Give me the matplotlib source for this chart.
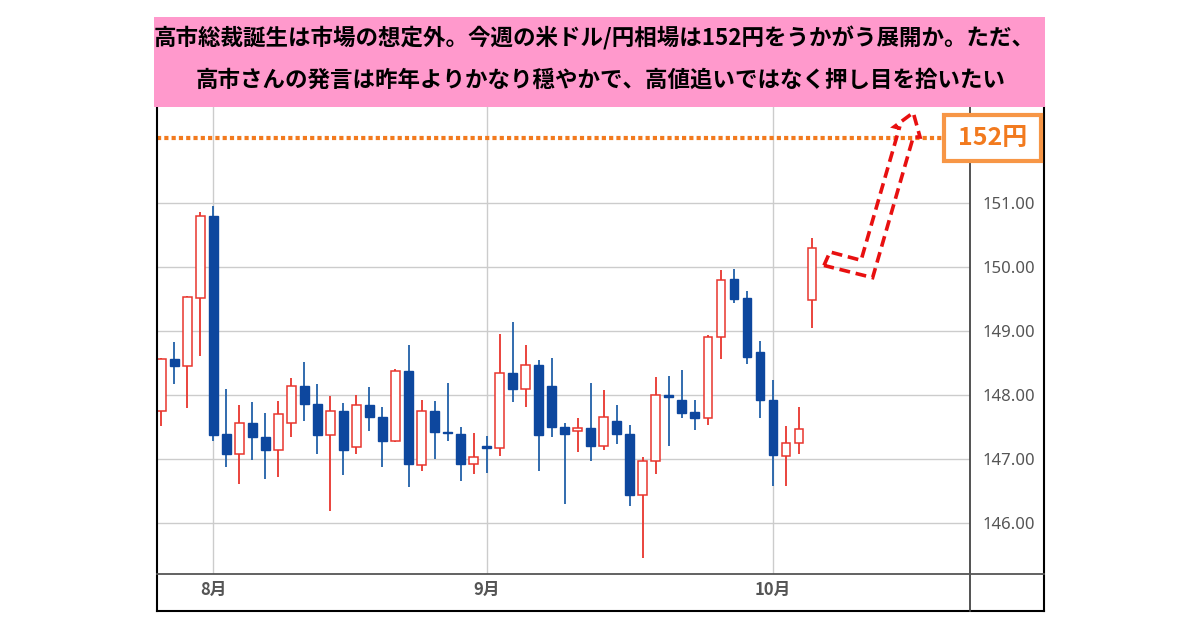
import matplotlib
matplotlib.use("Agg")
import matplotlib.pyplot as plt
from matplotlib.patches import Rectangle, Polygon
from matplotlib.lines import Line2D

# --- data: USD/JPY daily candles --------------------------------------------
dates = ["07-28", "07-29", "07-30", "07-31", "08-01", "08-04", "08-05", "08-06",
         "08-07", "08-08", "08-11", "08-12", "08-13", "08-14", "08-15", "08-18",
         "08-19", "08-20", "08-21", "08-22", "08-25", "08-26", "08-27", "08-28",
         "08-29", "09-01", "09-02", "09-03", "09-04", "09-05", "09-08", "09-09",
         "09-10", "09-11", "09-12", "09-15", "09-16", "09-17", "09-18", "09-19",
         "09-22", "09-23", "09-24", "09-25", "09-26", "09-29", "09-30", "10-01",
         "10-02", "10-03", "10-06"]
opens = [147.75, 148.56, 148.46, 149.52, 150.79, 147.39, 147.08, 147.56, 147.34, 147.14,
         147.56, 148.14, 147.86, 147.38, 147.76, 147.19, 147.84, 147.66, 147.29, 148.38,
         146.91, 147.75, 147.42, 147.40, 146.92, 147.21, 147.17, 148.34, 148.09, 148.47,
         148.14, 147.51, 147.44, 147.49, 147.21, 147.60, 147.40, 146.45, 146.97, 148.00,
         147.93, 147.73, 147.64, 148.90, 149.81, 149.51, 148.67, 147.92, 147.05, 147.25,
         149.48]
highs = [148.58, 148.82, 149.55, 150.86, 150.95, 148.09, 147.85, 147.89, 147.72, 147.91,
         148.26, 148.52, 148.17, 147.98, 147.87, 148.00, 148.12, 147.82, 148.40, 148.78,
         147.93, 147.91, 148.19, 147.50, 147.41, 147.37, 148.95, 149.14, 148.78, 148.54,
         148.58, 147.56, 147.65, 148.19, 148.08, 147.84, 147.53, 147.04, 148.28, 148.30,
         148.39, 147.93, 148.94, 149.95, 149.97, 149.62, 148.84, 148.24, 147.52, 147.82,
         150.44]
lows = [147.52, 148.17, 147.80, 148.61, 147.29, 146.88, 146.62, 146.99, 146.70, 146.72,
        147.35, 147.59, 147.09, 146.20, 146.75, 147.09, 147.44, 146.88, 147.27, 146.57,
        146.81, 147.00, 147.29, 146.66, 146.77, 146.78, 147.05, 147.90, 147.81, 146.81,
        147.35, 146.31, 147.11, 146.98, 147.14, 147.24, 146.27, 145.47, 146.77, 147.21,
        147.65, 147.46, 147.53, 148.57, 149.43, 148.48, 147.65, 146.59, 146.59, 147.09,
        149.04]
closes = [148.56, 148.46, 149.53, 150.79, 147.38, 147.08, 147.56, 147.34, 147.14, 147.71,
          148.14, 147.86, 147.38, 147.76, 147.14, 147.84, 147.66, 147.29, 148.38, 146.92,
          147.75, 147.42, 147.41, 146.92, 147.04, 147.17, 148.34, 148.09, 148.47, 147.38,
          147.51, 147.40, 147.48, 147.21, 147.66, 147.39, 146.45, 146.98, 148.00, 147.97,
          147.72, 147.64, 148.90, 149.80, 149.50, 148.59, 147.92, 147.07, 147.25, 147.47,
          150.29]

price_ticks = [146, 147, 148, 149, 150, 151]
target_price = 152.0
target_label = "152円"
title_lines = ["高市総裁誕生は市場の想定外。今週の米ドル/円相場は152円をうかがう展開か。ただ、",
               "高市さんの発言は昨年よりかなり穏やかで、高値追いではなく押し目を拾いたい"]
# hollow dashed arrow pointing up to 152 (candle index, price)
arrow_path = [(50.92, 150.02), (51.38, 150.23), (53.77, 150.10), (56.71, 152.16),
              (56.32, 152.18), (57.78, 152.40), (58.30, 152.02), (57.78, 152.02),
              (54.66, 149.83)]

UP = "#E8352D"
DOWN = "#0D479E"
DOWN_WICK = "#2160A8"
ORANGE = "#F27A1E"
BOX_ORANGE = "#F79646"
PINK = "#FF99CC"
CJK = ["Noto Sans CJK JP", "DejaVu Sans"]

W, H = 1200, 630


def fx(x):
    return x / W


def fy(y):
    return 1 - y / H


fig = plt.figure(figsize=(12, 6.3), dpi=100)
fig.patch.set_facecolor("white")

ax = fig.add_axes([fx(157.3), fy(574), fx(970) - fx(157.3), fy(107) - fy(574)])
for s in ax.spines.values():
    s.set_visible(False)

# candles
body_w = 0.67
for i, (o, h, l, c) in enumerate(zip(opens, highs, lows, closes)):
    up = c >= o
    if up:
        ax.vlines(i, l, h, color=UP, lw=1.3, zorder=3)
        ax.add_patch(Rectangle((i - body_w / 2, o), body_w, c - o,
                               facecolor="white", edgecolor=UP, lw=1.1, zorder=4))
    else:
        ax.vlines(i, l, h, color=DOWN_WICK, lw=1.3, zorder=3)
        ax.add_patch(Rectangle((i - body_w / 2, c), body_w, o - c,
                               facecolor=DOWN, edgecolor=DOWN, lw=1.0, zorder=4))

# month ticks where the month changes
month_idx = [i for i in range(1, len(dates)) if dates[i][:2] != dates[i - 1][:2]]
month_lbl = [f"{int(dates[i][:2])}月" for i in month_idx]

ax.set_xlim(-0.30, 62.14)
ax.set_ylim(145.213, 152.488)
ax.set_xticks(month_idx)
ax.set_xticklabels(month_lbl, fontfamily=CJK, fontweight="bold", fontsize=12, color="#555555")
ax.set_yticks(price_ticks)
ax.set_yticklabels([f"{p:.2f}" for p in price_ticks], fontfamily="Noto Sans",
                   fontsize=12, color="#555555")
ax.yaxis.tick_right()
ax.tick_params(axis="x", length=0, pad=5)
ax.tick_params(axis="y", length=0, pad=9)
ax.grid(True, color="#CCCCCC", lw=1.0, zorder=0)

# 152 target line
ax.axhline(target_price, color=ORANGE, lw=3, linestyle=(0, (1, 0.75)),
           dash_capstyle="butt", zorder=5)

# dashed hollow arrow
ax.add_patch(Polygon(arrow_path, closed=True, fill=False, edgecolor="#E81010",
                     lw=2.6, linestyle=(0, (3, 1.6)), zorder=6, clip_on=False))

# frame lines
def fline(x0, y0, x1, y1, color, lw):
    fig.add_artist(Line2D([fx(x0), fx(x1)], [fy(y0), fy(y1)], color=color, lw=lw,
                          transform=fig.transFigure, zorder=10))


fline(157.3, 107, 157.3, 611, "black", 1.5)
fline(157.3, 611, 1044, 611, "black", 1.5)
fline(1044, 107, 1044, 611, "black", 1.5)
fline(970, 107, 970, 611, "#444444", 1.3)
fline(157.3, 574, 1044, 574, "#555555", 1.3)

# target label box
fig.add_artist(Rectangle((fx(944), fy(161)), fx(1041) - fx(944), fy(115) - fy(161),
                         facecolor="white", edgecolor=BOX_ORANGE, lw=3,
                         transform=fig.transFigure, zorder=11))
fig.text(fx(992.5), fy(138), target_label, ha="center", va="center", fontsize=18,
         fontweight="bold", color=ORANGE, fontfamily=CJK, zorder=12)

# pink header
fig.add_artist(Rectangle((fx(154), fy(107)), fx(1045) - fx(154), fy(17) - fy(107),
                         facecolor=PINK, edgecolor="none", transform=fig.transFigure,
                         zorder=11))
fig.text(fx(594), fy(38.5), title_lines[0], ha="center", va="center", fontsize=16.2,
         fontweight="bold", color="black", fontfamily=CJK, zorder=12)
fig.text(fx(601), fy(80), title_lines[1], ha="center", va="center", fontsize=16.2,
         fontweight="bold", color="black", fontfamily=CJK, zorder=12)

fig.savefig("out.png", dpi=100)
